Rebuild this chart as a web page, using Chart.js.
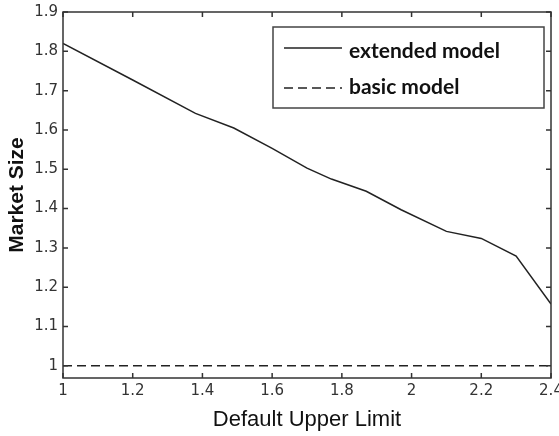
<!DOCTYPE html>
<html><head><meta charset="utf-8">
<script src="https://cdn.jsdelivr.net/npm/chart.js@4.4.1/dist/chart.umd.min.js"></script>
<style>html,body{margin:0;padding:0;background:#fff;} canvas{display:block;}</style>
</head><body>
<canvas id="c" width="559" height="436"></canvas>
<script>
const xValues = [1.0, 1.2, 1.38, 1.49, 1.6, 1.7, 1.77, 1.87, 1.97, 2.1, 2.2, 2.3, 2.4];
const extendedValues = [1.82, 1.727, 1.642, 1.605, 1.553, 1.503, 1.475, 1.444, 1.397, 1.342, 1.324, 1.279, 1.157];
const basicX = [1.0, 2.4];
const basicValues = [1, 1];
const seriesLabels = ['extended model', 'basic model'];
const xTicks = [1, 1.2, 1.4, 1.6, 1.8, 2, 2.2, 2.4];
const yTicks = [1, 1.1, 1.2, 1.3, 1.4, 1.5, 1.6, 1.7, 1.8, 1.9];
const xTitle = 'Default Upper Limit';
const yTitle = 'Market Size';

const framePlugin = {
  id: 'frame',
  afterDatasetsDraw(chart) {
    const {ctx, chartArea: a, scales: {x, y}} = chart;
    ctx.save();
    ctx.strokeStyle = '#333';
    ctx.lineWidth = 1.5;
    ctx.strokeRect(a.left, a.top, a.right - a.left, a.bottom - a.top);
    ctx.beginPath();
    const L = 5;
    x.ticks.forEach(t => {
      const px = x.getPixelForValue(t.value);
      ctx.moveTo(px, a.bottom); ctx.lineTo(px, a.bottom - L);
      ctx.moveTo(px, a.top); ctx.lineTo(px, a.top + L);
    });
    y.ticks.forEach(t => {
      const py = y.getPixelForValue(t.value);
      ctx.moveTo(a.left, py); ctx.lineTo(a.left + L, py);
      ctx.moveTo(a.right, py); ctx.lineTo(a.right - L, py);
    });
    ctx.stroke();

    // legend box inside plot area
    const bx = a.right - 278, by = a.top + 15, bw = 271, bh = 81;
    ctx.fillStyle = '#fff';
    ctx.fillRect(bx, by, bw, bh);
    ctx.strokeStyle = '#444';
    ctx.lineWidth = 1.5;
    ctx.strokeRect(bx, by, bw, bh);
    const rows = [{lineY: by + 21, textY: by + 31}, {lineY: by + 61, textY: by + 67}];
    chart.data.datasets.forEach((ds, i) => {
      const r = rows[i];
      ctx.beginPath();
      ctx.strokeStyle = ds.borderColor;
      ctx.lineWidth = ds.borderWidth;
      ctx.setLineDash(ds.borderDash || []);
      ctx.moveTo(bx + 11, r.lineY); ctx.lineTo(bx + 69, r.lineY);
      ctx.stroke();
      ctx.setLineDash([]);
      ctx.fillStyle = '#111';
      ctx.font = 'bold 21px Lato';
      ctx.textBaseline = 'alphabetic';
      ctx.textAlign = 'left';
      ctx.fillText(ds.label, bx + 76, r.textY);
    });
    ctx.restore();
  }
};

new Chart(document.getElementById('c'), {
  type: 'line',
  data: {
    datasets: [
      {label: seriesLabels[0], data: xValues.map((v, i) => ({x: v, y: extendedValues[i]})),
       borderColor: '#222', borderWidth: 1.5, pointRadius: 0, tension: 0, fill: false},
      {label: seriesLabels[1], data: basicX.map((v, i) => ({x: v, y: basicValues[i]})),
       borderColor: '#222', borderWidth: 1.6, borderDash: [9, 5], pointRadius: 0, fill: false}
    ]
  },
  options: {
    responsive: false, animation: false, devicePixelRatio: 1,
    layout: {padding: {top: 12, right: 8, left: 0, bottom: 0}},
    plugins: {legend: {display: false}, tooltip: {enabled: false}},
    scales: {
      x: {
        type: 'linear', min: 1, max: 2.4,
        grid: {display: false, drawTicks: false}, border: {display: false},
        afterBuildTicks: s => { s.ticks = xTicks.map(v => ({value: v})); },
        ticks: {font: {family: 'DejaVu Sans', size: 15}, color: '#333', padding: 4,
                maxRotation: 0, autoSkip: false, callback: v => String(v)},
        title: {display: true, text: xTitle, font: {family: 'Liberation Sans', size: 22},
                color: '#111', padding: {top: 0, bottom: 3}},
        afterFit: s => { s.height = 58; s.paddingLeft = 0; s.paddingRight = 0; }
      },
      y: {
        type: 'linear', min: 0.969, max: 1.9,
        grid: {display: false, drawTicks: false}, border: {display: false},
        afterBuildTicks: s => { s.ticks = yTicks.map(v => ({value: v})); },
        ticks: {font: {family: 'DejaVu Sans', size: 15}, color: '#333', padding: 5,
                autoSkip: false, callback: v => String(v)},
        title: {display: true, text: yTitle, font: {family: 'Liberation Sans', size: 21, weight: 'bold'},
                color: '#111', padding: {top: 5, bottom: 0}},
        afterFit: s => { s.width = 63; s.paddingTop = 0; s.paddingBottom = 0; }
      }
    }
  },
  plugins: [framePlugin]
});
</script>
</body></html>
